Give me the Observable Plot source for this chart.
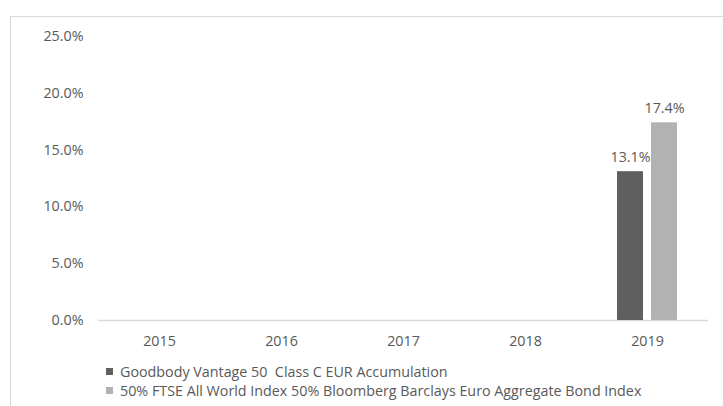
<!DOCTYPE html>
<html>
<head>
<meta charset="utf-8">
<script src="https://cdn.jsdelivr.net/npm/d3@7"></script>
<script src="https://cdn.jsdelivr.net/npm/@observablehq/plot@0.6"></script>
<style>
  body { margin: 0; background: #fff; font-family: "Open Sans", sans-serif; }
  #wrap { position: relative; width: 723px; height: 406px; overflow: hidden; }
  .frameTop { position: absolute; left: 10px; top: 16px; width: 713px; height: 1px; background: #d9d9d9; }
  .frameLeft { position: absolute; left: 10px; top: 16px; width: 1px; height: 390px; background: #d9d9d9; }
  #chart { position: absolute; left: 0; top: 0; }
  #legend { position: absolute; left: 106px; top: 362px; font-size: 14.3px; color: #595959; }
  .item { height: 19px; line-height: 19px; display: flex; align-items: center; white-space: pre; }
  .sw { width: 7px; height: 7px; margin-right: 7px; }
</style>
</head>
<body>
<div id="wrap">
  <div class="frameTop"></div>
  <div class="frameLeft"></div>
  <div id="chart"></div>
  <div id="legend"></div>
</div>
<script>
const years = ["2015", "2016", "2017", "2018", "2019"];
const seriesNames = [
  "Goodbody Vantage 50  Class C EUR Accumulation",
  "50% FTSE All World Index 50% Bloomberg Barclays Euro Aggregate Bond Index"
];
const fundValues = [null, null, null, null, 13.1];
const benchValues = [null, null, null, null, 17.4];
const seriesColors = ["#5f5f5f", "#b2b2b2"];
const yTicks = [0, 5, 10, 15, 20, 25];

const data = [];
years.forEach((y, i) => {
  if (fundValues[i] != null) data.push({year: y, series: seriesNames[0], value: fundValues[i]});
  if (benchValues[i] != null) data.push({year: y, series: seriesNames[1], value: benchValues[i]});
});

const chart = Plot.plot({
  width: 723,
  height: 352,
  marginLeft: 97,
  marginRight: 15,
  marginTop: 36,
  marginBottom: 32,
  style: {fontFamily: "'Open Sans', sans-serif", fontSize: "14.3px", color: "#595959", background: "transparent"},
  fx: {domain: years, padding: 0, label: null, tickSize: 0, tickPadding: 15},
  x: {domain: seriesNames, axis: null, paddingInner: 0.2286, paddingOuter: 0.86},
  y: {domain: [0, 25], ticks: yTicks, tickFormat: d => d.toFixed(1) + "%", tickSize: 0, tickPadding: 15, label: null},
  color: {domain: seriesNames, range: seriesColors},
  marks: [
    Plot.ruleY(years, {fx: d => d, y: () => 0, stroke: "#d9d9d9", strokeWidth: 1.3}),
    Plot.barY(data, {fx: "year", x: "series", y: "value", fill: "series"}),
    Plot.text(data, {fx: "year", x: "series", y: "value", text: d => d.value.toFixed(1) + "%", lineAnchor: "bottom", dy: -10, fill: "#595959", fontSize: 14.3})
  ]
});
document.getElementById("chart").appendChild(chart);

const legend = document.getElementById("legend");
seriesNames.forEach((name, i) => {
  const row = document.createElement("div");
  row.className = "item";
  const sw = document.createElement("span");
  sw.className = "sw";
  sw.style.background = seriesColors[i];
  const t = document.createElement("span");
  t.textContent = name;
  row.appendChild(sw);
  row.appendChild(t);
  legend.appendChild(row);
});
</script>
</body>
</html>
